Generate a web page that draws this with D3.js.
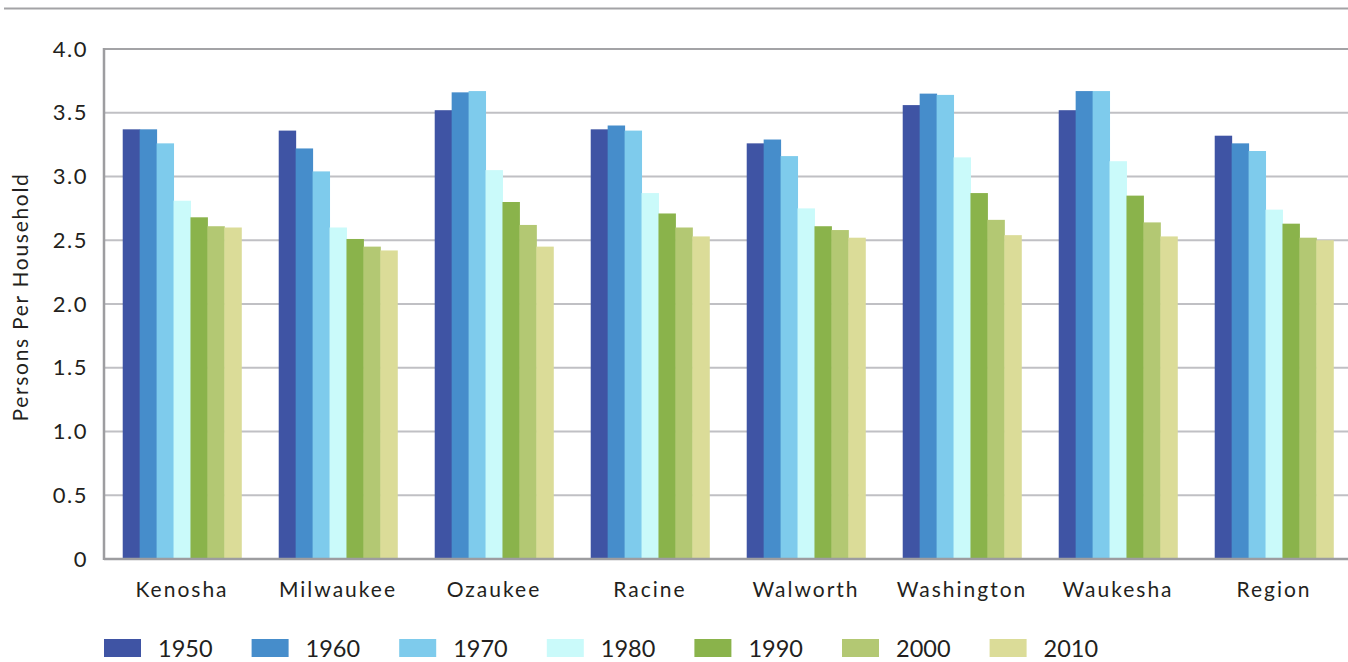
<!DOCTYPE html>
<html>
<head>
<meta charset="utf-8">
<script src="https://cdn.jsdelivr.net/npm/d3@7"></script>
<style>
  html, body { margin: 0; padding: 0; background: #fff; }
  svg { display: block; font-family: Lato, "Open Sans", sans-serif; }
</style>
</head>
<body>
<svg id="chart" width="1348" height="662"></svg>
<script>
// Persons per household by county, 1950–2010
const counties = ["Kenosha", "Milwaukee", "Ozaukee", "Racine", "Walworth", "Washington", "Waukesha", "Region"];
const years = ["1950", "1960", "1970", "1980", "1990", "2000", "2010"];
const v1950 = [3.37, 3.36, 3.52, 3.37, 3.26, 3.56, 3.52, 3.32];
const v1960 = [3.37, 3.22, 3.66, 3.40, 3.29, 3.65, 3.67, 3.26];
const v1970 = [3.26, 3.04, 3.67, 3.36, 3.16, 3.64, 3.67, 3.20];
const v1980 = [2.81, 2.60, 3.05, 2.87, 2.75, 3.15, 3.12, 2.74];
const v1990 = [2.68, 2.51, 2.80, 2.71, 2.61, 2.87, 2.85, 2.63];
const v2000 = [2.61, 2.45, 2.62, 2.60, 2.58, 2.66, 2.64, 2.52];
const v2010 = [2.60, 2.42, 2.45, 2.53, 2.52, 2.54, 2.53, 2.50];
const yTicks = [0, 0.5, 1.0, 1.5, 2.0, 2.5, 3.0, 3.5, 4.0];
const colors = ["#3f54a4", "#468dcb", "#7ecbec", "#cafafa", "#8ab34b", "#b3c873", "#dbdc98"];

const series = [v1950, v1960, v1970, v1980, v1990, v2000, v2010];

const svg = d3.select("#chart");
const plotLeft = 104, plotRight = 1352, plotTop = 49, plotBottom = 559;
const textColor = "#231f20";

const x0 = d3.scaleBand().domain(counties).range([plotLeft, plotRight]).paddingInner(0.24).paddingOuter(0.12);
const x1 = d3.scaleBand().domain(years).range([0, x0.bandwidth()]);
const y = d3.scaleLinear().domain([0, 4]).range([plotBottom, plotTop]);
const color = d3.scaleOrdinal().domain(years).range(colors);

// top rule
svg.append("line").attr("x1", 4).attr("x2", 1348).attr("y1", 8.5).attr("y2", 8.5)
  .attr("stroke", "#a3a3a6").attr("stroke-width", 2);

// gridlines
svg.append("g").selectAll("line").data(yTicks.filter(d => d > 0 && d < 4)).join("line")
  .attr("x1", plotLeft).attr("x2", plotRight)
  .attr("y1", d => y(d)).attr("y2", d => y(d))
  .attr("stroke", "#c0c0c4").attr("stroke-width", 2);

// bars
const groups = svg.append("g").selectAll("g").data(counties).join("g")
  .attr("transform", d => `translate(${x0(d)},0)`);
groups.selectAll("rect")
  .data((c, i) => years.map((yr, k) => ({ yr, v: series[k][i] })))
  .join("rect")
  .attr("x", d => x1(d.yr))
  .attr("width", x1.bandwidth() + 0.5)
  .attr("y", d => y(d.v))
  .attr("height", d => y(0) - y(d.v))
  .attr("fill", d => color(d.yr));

// frame: top line at 4.0, left axis, baseline
svg.append("line").attr("x1", plotLeft).attr("x2", plotRight).attr("y1", y(4)).attr("y2", y(4))
  .attr("stroke", "#a3a3a6").attr("stroke-width", 2);
svg.append("line").attr("x1", plotLeft).attr("x2", plotRight).attr("y1", y(0)).attr("y2", y(0))
  .attr("stroke", "#9d9da0").attr("stroke-width", 2.5);
svg.append("line").attr("x1", plotLeft).attr("x2", plotLeft).attr("y1", y(4) - 1).attr("y2", y(0) + 1)
  .attr("stroke", "#9d9da0").attr("stroke-width", 2.5);

// y axis labels
const yAxis = d3.axisLeft(y).tickValues(yTicks)
  .tickFormat(d => d === 0 ? "0" : d3.format(".1f")(d))
  .tickSize(0).tickPadding(16);
const ya = svg.append("g").attr("transform", `translate(${plotLeft},0)`).call(yAxis);
ya.select(".domain").remove();
ya.selectAll("text").attr("font-size", 22).attr("fill", textColor)
  .attr("letter-spacing", 1.5)
  .attr("font-family", "Lato, sans-serif");

// x axis labels
const xAxis = d3.axisBottom(x0).tickSize(0);
const xa = svg.append("g").attr("transform", `translate(0,${plotBottom})`).call(xAxis);
xa.select(".domain").remove();
xa.selectAll("text").attr("y", 38).attr("dy", 0)
  .attr("font-size", 21).attr("fill", textColor)
  .attr("letter-spacing", 2)
  .attr("font-family", "Lato, sans-serif");

// y title
svg.append("text")
  .attr("transform", `translate(28,297) rotate(-90)`)
  .attr("text-anchor", "middle")
  .attr("font-size", 21).attr("letter-spacing", 1.7).attr("fill", textColor)
  .text("Persons Per Household");

// legend
const legend = svg.append("g").selectAll("g").data(years).join("g")
  .attr("transform", (d, i) => `translate(${104 + i * 147.6},639)`);
legend.append("rect").attr("width", 37).attr("height", 18).attr("fill", d => color(d));
legend.append("text").attr("x", 54).attr("y", 18)
  .attr("font-size", 23.5).attr("fill", textColor).text(d => d);
</script>
</body>
</html>
